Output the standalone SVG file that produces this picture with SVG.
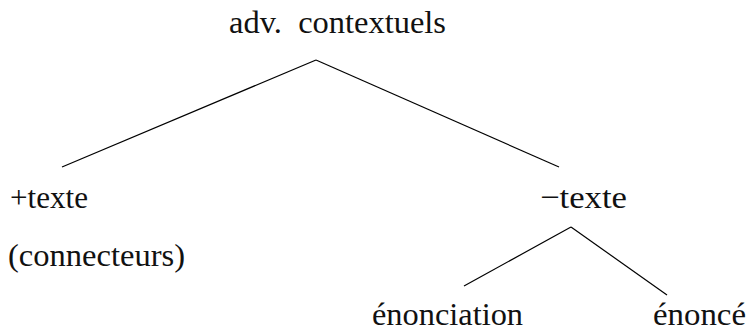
<svg xmlns="http://www.w3.org/2000/svg" width="747" height="332" viewBox="0 0 747 332">
<style>
text { font-family: "Liberation Serif", "DejaVu Serif", serif; font-size: 32px; fill: #111; white-space: pre; }
.edge { stroke: #000; stroke-width: 1.2; fill: none; }
</style>
<rect width="747" height="332" fill="#fff"/>
<g id="root"><text x="229" y="33" textLength="217" lengthAdjust="spacingAndGlyphs" xml:space="preserve">adv.  contextuels</text></g>
<g id="plus-texte"><text x="10" y="208" textLength="78" lengthAdjust="spacingAndGlyphs">+texte</text><text x="8" y="266" textLength="177" lengthAdjust="spacingAndGlyphs">(connecteurs)</text></g>
<g id="moins-texte"><text x="540" y="208" textLength="87" lengthAdjust="spacingAndGlyphs">−texte</text></g>
<g id="enonciation"><text x="372" y="325" textLength="151" lengthAdjust="spacingAndGlyphs">énonciation</text></g>
<g id="enonce"><text x="653" y="325" textLength="93" lengthAdjust="spacingAndGlyphs">énoncé</text></g>
<g id="connectors">
<line class="edge" x1="316" y1="60" x2="62" y2="167"/>
<line class="edge" x1="316" y1="60" x2="559" y2="167"/>
<line class="edge" x1="571" y1="227" x2="464" y2="286"/>
<line class="edge" x1="571" y1="227" x2="667" y2="295"/>
</g>
</svg>
